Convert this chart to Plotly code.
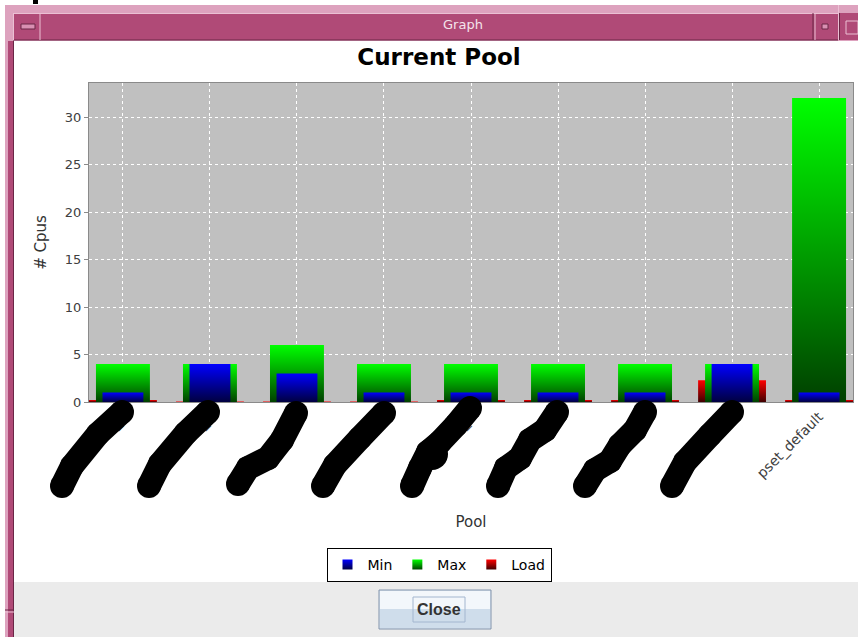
import plotly.graph_objects as go

# ---------------- data ----------------
categories = ["pool_1", "pool_2", "pool_3", "pool_4", "pool_5",
              "pool_6", "pool_7", "pool_8", "pset_default"]
min_cpus = [1, 4, 3, 1, 1, 1, 1, 4, 1]
max_cpus = [4, 4, 6, 4, 4, 4, 4, 4, 32]
load_cpus = [0.2, 0.05, 0.05, 0.05, 0.2, 0.2, 0.2, 2.3, 0.2]
y_ticks = [0, 5, 10, 15, 20, 25, 30]

# ---------------- styles ----------------
# drawn back-to-front (layered bar renderer): widest first
series_style = [
    ("Load", load_cpus, 0.78, "#FF0000", "#400000"),
    ("Max", max_cpus, 0.62, "#00FF00", "#004000"),
    ("Min", min_cpus, 0.47, "#0000FF", "#000040"),
]
legend_order = ["Min", "Max", "Load"]
FONT = "DejaVu Sans"

# plot area in pixels
L, R, T, B = 89, 853, 83, 402
W, H = R - L, B - T


def X(px):
    return (px - L) / W


def Y(py):
    return (B - py) / H


fig = go.Figure()

for name, vals, width, bright, dark in series_style:
    for i, v in enumerate(vals):
        x0, x1 = i - width / 2, i + width / 2
        fig.add_trace(go.Scatter(
            x=[x0, x0, x1, x1, x0], y=[0, v, v, 0, 0],
            mode="lines", fill="toself", line=dict(width=0, color=bright),
            fillgradient=dict(type="vertical",
                              colorscale=[[0, dark], [1, bright]]),
            hoverinfo="skip", showlegend=False, name=name))

style_by_name = {s[0]: s for s in series_style}
for name in legend_order:
    _, _, _, bright, dark = style_by_name[name]
    fig.add_trace(go.Scatter(
        x=[None], y=[None], mode="markers", name=name,
        marker=dict(symbol="square", size=10, color=bright,
                    gradient=dict(type="vertical", color=dark))))

shapes = []
annotations = []


def rect(x0, y0, x1, y1, fill=None, line=None, lw=1, layer="below"):
    shapes.append(dict(type="rect", xref="paper", yref="paper",
                       x0=X(x0), x1=X(x1), y0=Y(y1), y1=Y(y0),
                       fillcolor=fill if fill else "rgba(0,0,0,0)",
                       line=dict(color=line if line else "rgba(0,0,0,0)",
                                 width=lw if line else 0),
                       layer=layer))


def hline(x0, x1, y, color, lw=1):
    shapes.append(dict(type="line", xref="paper", yref="paper",
                       x0=X(x0), x1=X(x1), y0=Y(y), y1=Y(y),
                       line=dict(color=color, width=lw), layer="below"))


def vline(x, y0, y1, color, lw=1):
    shapes.append(dict(type="line", xref="paper", yref="paper",
                       x0=X(x), x1=X(x), y0=Y(y0), y1=Y(y1),
                       line=dict(color=color, width=lw), layer="below"))


# ---------- window chrome ----------
MAG = "#B04A77"
LIGHT = "#DDA2BE"
HI = "#EBC0D4"
DARK = "#6A2646"
rect(5, 5, 858, 41, LIGHT)
rect(13, 13, 838, 40, MAG)
rect(840, 13, 858, 40, MAG)
hline(13, 838, 13.5, HI)
hline(13, 838, 40, DARK)
vline(40, 13, 40, HI)
vline(13.5, 13, 40, HI)
vline(813, 13, 40, DARK)
vline(815, 13, 40, HI)
vline(838.5, 5, 40, HI)
vline(839.5, 13, 40, DARK)
rect(21, 24, 35, 29, "#D890B2", DARK)
rect(822, 24, 828, 29, "#D890B2", DARK)
rect(846, 21, 858, 34, None, HI)
rect(33, 0, 38, 4, "#000000")
# left frame
rect(5, 41, 14, 637, MAG)
rect(5, 41, 8, 637, LIGHT)
vline(13.5, 41, 637, DARK)
hline(5, 14, 610, DARK)
hline(5, 14, 612, HI)
# bottom panel + button
rect(14, 582, 858, 637, "#EBEBEB")
rect(379, 590, 491, 629, "#DCE6F1", "#8193AB")
rect(380, 591, 490, 609, "#F3F7FB")
rect(380, 609, 490, 628, "#CFDDEB")
rect(413, 597, 465, 622, None, "#A3B6CF")

annotations.append(dict(text="Graph", x=X(463), y=Y(24), xref="paper",
                        yref="paper", showarrow=False, xanchor="center",
                        yanchor="middle",
                        font=dict(family="DejaVu Sans", size=13,
                                  color="#F4E4EC")))
annotations.append(dict(text="<b>Close</b>", x=X(439), y=Y(609.5),
                        xref="paper", yref="paper", showarrow=False,
                        xanchor="center", yanchor="middle",
                        font=dict(family="Liberation Sans", size=16,
                                  color="#333333")))

# ---------- redaction marks over the hidden category labels ----------
scribbles = [
    [(62, 486), (72, 466), (98, 434), (122, 412)],
    [(149, 486), (160, 464), (186, 433), (208, 412)],
    [(238, 484), (248, 468), (268, 458), (282, 440), (296, 413)],
    [(323, 486), (335, 465), (360, 438), (384, 413)],
    [(412, 486), (420, 468), (428, 452), (440, 442), (456, 425), (470, 408)],
    [(498, 486), (506, 468), (520, 458), (530, 440), (545, 430), (557, 412)],
    [(585, 486), (595, 470), (610, 461), (620, 445), (635, 430), (645, 412)],
    [(672, 486), (685, 462), (710, 435), (732, 412)],
]
SW = 24
for pts in scribbles:
    path = "M " + " L ".join(f"{X(a):.5f},{Y(b):.5f}" for a, b in pts)
    shapes.append(dict(type="path", xref="paper", yref="paper", path=path,
                       line=dict(color="black", width=SW), layer="above"))
    for a, b in pts:
        shapes.append(dict(type="circle", xref="paper", yref="paper",
                           x0=X(a - SW / 2), x1=X(a + SW / 2),
                           y0=Y(b + SW / 2), y1=Y(b - SW / 2),
                           fillcolor="black", line=dict(width=0),
                           layer="above"))
# fatter part of the fifth mark
shapes.append(dict(type="circle", xref="paper", yref="paper",
                   x0=X(416), x1=X(448), y0=Y(470), y1=Y(438),
                   fillcolor="black", line=dict(width=0), layer="above"))

fig.update_layout(
    width=858, height=637,
    margin=dict(l=L, r=858 - R, t=T, b=637 - B, autoexpand=False),
    paper_bgcolor="white", plot_bgcolor="#C0C0C0",
    title=dict(text="Current Pool", x=439 / 858, xanchor="center",
               xref="container", y=1 - 57 / 637, yanchor="middle",
               yref="container",
               font=dict(family=FONT, size=23, color="black",
                         weight="bold")),
    font=dict(family=FONT, color="#333333"),
    shapes=shapes, annotations=annotations,
    showlegend=True,
    legend=dict(orientation="h", x=X(439), xanchor="center", y=Y(548),
                yanchor="top", bgcolor="white", bordercolor="black",
                borderwidth=1, font=dict(family=FONT, size=14, color="black"),
                itemwidth=30, traceorder="normal"),
)

fig.update_xaxes(
    range=[-0.39, len(categories) - 1 + 0.39],
    tickmode="array", tickvals=list(range(len(categories))),
    ticktext=categories, tickangle=-45,
    tickfont=dict(family=FONT, size=14, color="#404040"),
    showgrid=True, gridcolor="white", griddash="3px,3px", gridwidth=1,
    showline=True, linecolor="#8A8A8A", linewidth=1, mirror=True,
    ticks="", zeroline=False,
    title=dict(text="Pool", font=dict(family=FONT, size=15, color="#333333"),
               standoff=36),
    automargin=False,
)
fig.update_yaxes(
    range=[0, 33.58], tickmode="array", tickvals=y_ticks,
    tickfont=dict(family=FONT, size=13, color="#404040"),
    showgrid=True, gridcolor="white", griddash="3px,3px", gridwidth=1,
    showline=True, linecolor="#8A8A8A", linewidth=1, mirror=True,
    ticks="outside", ticklen=4, tickcolor="#8A8A8A", zeroline=False,
    title=dict(text="# Cpus", font=dict(family=FONT, size=15,
                                        color="#333333"), standoff=14),
    automargin=False,
)

fig.write_html(
    "out.html",
    config={"displayModeBar": False},
    post_script="document.documentElement.style.margin='0';"
                "document.body.style.margin='0';"
                "document.body.style.overflow='hidden';")
